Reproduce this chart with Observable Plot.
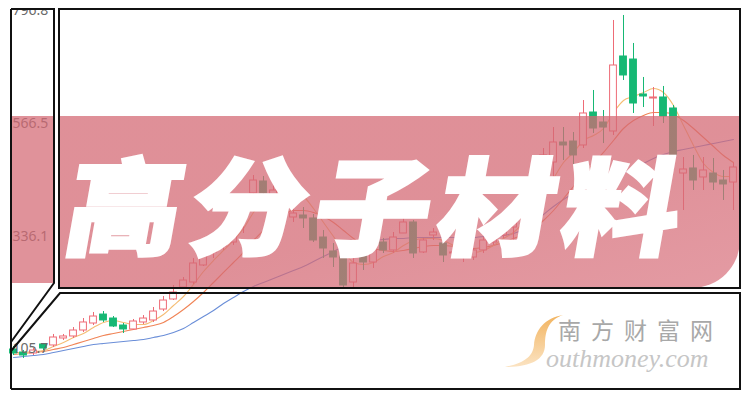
<!DOCTYPE html>
<html><head><meta charset="utf-8">
<script src="https://cdn.jsdelivr.net/npm/d3@7"></script>
<script src="https://cdn.jsdelivr.net/npm/@observablehq/plot@0.6"></script>
<style>
html,body{margin:0;padding:0;background:#fff;}
#wrap{position:relative;width:750px;height:400px;overflow:hidden;background:#fff;}
#chart{position:absolute;left:0;top:0;}
.band{position:absolute;background:rgba(212,105,116,0.73);}
#bandL{left:11px;top:116px;width:43px;height:167px;}
#bandM{left:59px;top:116px;width:681px;height:172px;border-bottom-right-radius:48px;
  background:linear-gradient(165deg, rgba(212,105,116,0.74) 55%, rgba(216,112,124,0.70) 100%);}
#frames{position:absolute;left:0;top:0;}
#title{position:absolute;left:379px;top:201px;transform:translate(-50%,-50%) skewX(-10deg) scaleX(1.1);
  font-family:"Noto Sans CJK SC","Noto Sans CJK JP",sans-serif;font-weight:900;font-size:106px;color:#fff;
  white-space:nowrap;letter-spacing:7px;line-height:1;-webkit-text-stroke:3px #fff;}
</style></head>
<body>
<div id="wrap">
  <div id="chart"></div>
  <div class="band" id="bandL"></div>
  <div class="band" id="bandM"></div>
  <svg id="frames" width="750" height="400">
    <defs>
      <linearGradient id="sg" x1="0" y1="0" x2="0" y2="1">
        <stop offset="0" stop-color="#f2b460"/>
        <stop offset="1" stop-color="#fbe3c2"/>
      </linearGradient>
    </defs>
    <rect x="0" y="0" width="750" height="8" fill="#fff"/>
    <g fill="none" stroke="#111" stroke-width="2">
      <path d="M11,9 H54 V283 L11,342"/>
      <path d="M11,9 V389"/>
      <rect x="59" y="9" width="681" height="279"/>
      <path d="M11,351 L60,293 H740 V389 H11"/>
    </g>
    <path d="M563,315 C548,320 545,332 545,345 C545,360 530,367 505,367 C525,363 533,356 534,345 C535,330 545,318 563,315 Z" fill="url(#sg)"/>
    <text x="558" y="339" font-family="Noto Sans CJK SC" font-size="23" fill="#a8a8a8" letter-spacing="10">南方财富网</text>
    <text x="546" y="367" font-family="Liberation Serif" font-style="italic" font-size="26" fill="#c6c6c6">outhmoney.com</text>
  </svg>
  <div id="title">高分子材料</div>
</div>
<script>
// y-axis tick labels
const tickLabels = [796.8, 566.5, 336.1, 105.7];

// daily candles
const open = [104.3, 98.1, 96.1, 114.5, 112.5, 126.8, 130.9, 143.1, 157.4, 175.7, 167.6, 153.3, 145.2, 159.5, 163.6, 186.0, 206.5, 231.0, 241.2, 276.0, 302.6, 314.8, 323.0, 374.1, 423.2, 447.7, 419.1, 378.2, 374.1, 378.2, 372.1, 333.2, 304.6, 294.4, 241.2, 298.5, 282.1, 323.0, 306.7, 341.4, 363.9, 302.6, 337.3, 321.0, 300.5, 292.3, 292.3, 306.7, 323.0, 337.3, 353.6, 378.2, 402.7, 451.8, 486.5, 527.4, 529.4, 521.3, 588.7, 568.3, 549.9, 703.2, 697.0, 625.5, 617.3, 619.4, 596.9, 464.0, 474.3, 455.9, 464.0, 449.7, 445.6];
const close = [96.1, 92.0, 102.2, 106.3, 128.8, 130.9, 143.1, 159.5, 171.7, 163.6, 151.3, 145.2, 161.5, 167.6, 181.9, 204.4, 220.8, 245.3, 280.1, 298.5, 310.7, 321.0, 353.6, 384.3, 449.7, 423.2, 429.3, 398.6, 382.3, 372.1, 327.1, 310.7, 292.3, 235.1, 280.1, 282.1, 306.7, 306.7, 333.2, 363.9, 300.5, 327.1, 343.4, 296.4, 302.6, 294.4, 306.7, 327.1, 343.4, 357.7, 363.9, 398.6, 439.5, 500.9, 527.4, 521.3, 500.9, 586.7, 556.0, 558.0, 684.8, 664.4, 607.1, 621.4, 619.4, 580.5, 500.9, 472.2, 449.7, 470.2, 445.6, 441.6, 476.3];
const high = [110.4, 102.2, 106.3, 116.5, 135.0, 135.0, 149.2, 167.6, 179.9, 181.9, 171.7, 157.4, 165.6, 173.7, 190.1, 212.6, 235.1, 251.4, 290.3, 306.7, 321.0, 331.2, 363.9, 394.5, 459.9, 457.9, 464.0, 408.9, 392.5, 394.5, 380.2, 347.5, 321.0, 302.6, 290.3, 306.7, 321.0, 331.2, 343.4, 374.1, 368.0, 331.2, 351.6, 327.1, 310.7, 302.6, 310.7, 333.2, 351.6, 368.0, 382.3, 408.9, 453.8, 515.1, 558.0, 558.0, 547.8, 613.2, 633.7, 592.8, 776.8, 787.0, 729.8, 660.3, 639.8, 641.9, 603.0, 496.7, 500.9, 496.7, 494.7, 470.2, 484.5];
const low = [92.0, 85.9, 92.0, 102.2, 108.4, 122.7, 126.8, 139.0, 153.3, 159.5, 149.2, 137.0, 143.1, 155.4, 159.5, 181.9, 204.4, 226.9, 237.1, 273.9, 290.3, 306.7, 316.9, 341.4, 412.9, 408.9, 388.4, 372.1, 363.9, 351.6, 323.0, 290.3, 271.9, 228.9, 228.9, 265.8, 269.9, 300.5, 300.5, 341.4, 290.3, 300.5, 327.1, 282.1, 294.4, 282.1, 286.2, 300.5, 316.9, 331.2, 306.7, 363.9, 394.5, 439.5, 449.7, 490.6, 480.4, 515.1, 545.8, 525.3, 541.7, 654.1, 586.7, 598.9, 560.1, 566.2, 470.2, 388.4, 429.3, 429.3, 429.3, 408.9, 388.4];

// moving-average lines
const ma5 = [98.2, 98.2, 100.2, 102.3, 110.4, 118.6, 128.8, 137.0, 149.3, 159.5, 163.6, 159.5, 155.4, 155.4, 163.6, 175.8, 194.2, 212.6, 237.2, 263.7, 286.2, 306.7, 327.1, 351.6, 384.3, 408.9, 425.2, 429.3, 425.2, 417.0, 392.5, 363.9, 335.3, 306.7, 282.1, 278.0, 282.1, 294.4, 302.6, 316.9, 327.1, 331.2, 331.2, 327.1, 316.9, 306.7, 302.6, 306.7, 316.9, 331.2, 343.4, 363.9, 388.4, 419.1, 453.8, 486.5, 507.0, 531.5, 541.7, 556.0, 588.7, 613.3, 621.4, 629.6, 637.8, 629.6, 603.0, 562.2, 521.3, 484.5, 466.1, 457.9, 457.9];
const ma10 = [94.1, 96.1, 98.2, 100.2, 104.3, 108.4, 114.5, 120.6, 126.8, 132.9, 137.0, 141.1, 145.2, 149.3, 153.4, 159.5, 171.7, 186.0, 202.4, 220.8, 241.2, 261.7, 282.1, 302.6, 327.1, 347.5, 365.9, 380.2, 388.4, 388.4, 384.3, 376.1, 363.9, 347.5, 331.2, 318.9, 310.7, 306.7, 304.6, 306.7, 310.7, 314.8, 316.9, 316.9, 314.8, 312.8, 310.7, 312.8, 316.9, 323.0, 331.2, 339.4, 351.6, 368.0, 388.4, 412.9, 437.5, 462.0, 484.5, 507.0, 531.5, 556.0, 572.4, 582.6, 588.7, 588.7, 584.6, 572.4, 556.0, 537.6, 519.2, 500.8, 486.5];
const ma30 = [87.9, 90.0, 92.0, 94.1, 98.2, 102.3, 106.3, 110.4, 114.5, 116.6, 118.6, 120.6, 122.7, 124.7, 128.8, 132.9, 139.0, 147.2, 159.5, 171.7, 184.0, 198.3, 210.6, 222.9, 233.1, 241.2, 249.4, 257.6, 265.8, 274.0, 284.2, 294.4, 304.6, 314.8, 321.0, 325.1, 327.1, 329.1, 331.2, 331.2, 333.2, 333.2, 333.2, 333.2, 333.2, 333.2, 333.2, 335.3, 335.3, 337.3, 341.4, 349.6, 363.9, 380.2, 396.6, 410.9, 423.2, 435.4, 445.6, 453.8, 460.0, 466.1, 472.2, 484.5, 494.7, 502.9, 509.0, 513.1, 517.2, 521.3, 525.4, 529.5, 533.5];

const data = open.map((o, i) => ({
  i, open: o, close: close[i], high: high[i], low: low[i],
  ma5: ma5[i], ma10: ma10[i], ma30: ma30[i], up: close[i] >= o
}));

const RED = "#ee6b76", GREEN = "#16b874";

const chart = Plot.plot({
  width: 750, height: 400,
  marginTop: 0, marginRight: 0, marginBottom: 0, marginLeft: 0,
  x: {domain: [0, 72], range: [13, 733], axis: null},
  y: {domain: [105.7, 796.8], range: [348.3, 10.2], axis: null},
  style: {background: "transparent", overflow: "visible"},
  marks: [
    Plot.line(data, {x: "i", y: "ma30", stroke: "#6a8ed8", strokeWidth: 1.1, curve: "monotone-x"}),
    Plot.line(data, {x: "i", y: "ma10", stroke: "#f08456", strokeWidth: 1.1, curve: "monotone-x"}),
    Plot.line(data, {x: "i", y: "ma5", stroke: "#f5bd74", strokeWidth: 1.1, curve: "monotone-x"}),
    Plot.ruleX(data, {x: "i", y1: "low", y2: "high", stroke: d => d.up ? RED : GREEN, strokeWidth: 1}),
    Plot.rect(data, {x1: d => d.i - 0.34, x2: d => d.i + 0.34, y1: "open", y2: "close",
      fill: d => d.up ? "#ffffff" : GREEN, stroke: d => d.up ? RED : GREEN, strokeWidth: 1}),
    Plot.text(tickLabels, {y: d => d, text: d => d.toFixed(1), frameAnchor: "left", dx: 12,
      textAnchor: "start", fill: "#6a6a6a", fontSize: 14, fontFamily: "Noto Sans"})
  ]
});
document.getElementById("chart").appendChild(chart);
</script>
</body></html>
